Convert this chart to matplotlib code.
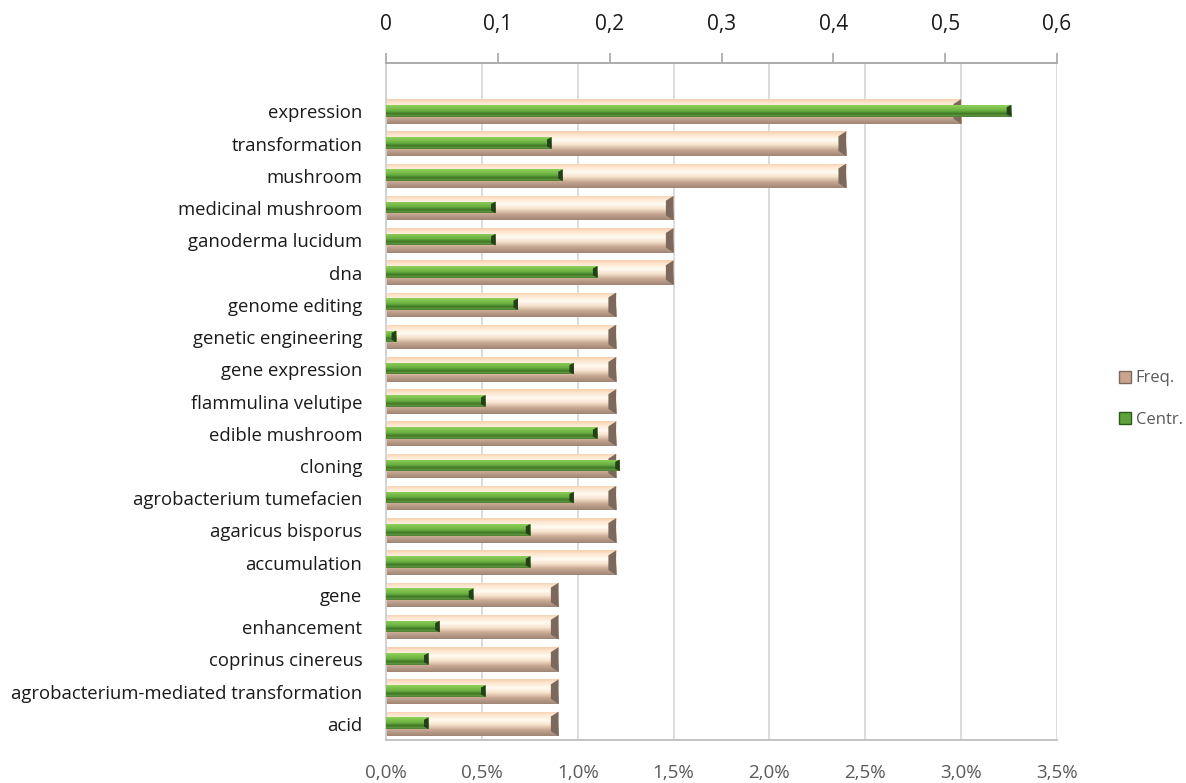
import numpy as np
import matplotlib.pyplot as plt
from matplotlib.colors import LinearSegmentedColormap
from matplotlib.patches import Polygon, Patch

plt.rcParams['font.family'] = ['Open Sans', 'DejaVu Sans']

terms = ['expression', 'transformation', 'mushroom', 'medicinal mushroom',
         'ganoderma lucidum', 'dna', 'genome editing', 'genetic engineering',
         'gene expression', 'flammulina velutipe', 'edible mushroom', 'cloning',
         'agrobacterium tumefacien', 'agaricus bisporus', 'accumulation', 'gene',
         'enhancement', 'coprinus cinereus',
         'agrobacterium-mediated transformation', 'acid']
# term frequency in percent (bottom axis)
freq = [3.0, 2.4, 2.4, 1.5, 1.5, 1.5, 1.2, 1.2, 1.2, 1.2,
        1.2, 1.2, 1.2, 1.2, 1.2, 0.9, 0.9, 0.9, 0.9, 0.9]
# centrality (top axis)
centr = [0.559, 0.148, 0.158, 0.098, 0.098, 0.189, 0.118, 0.009, 0.168, 0.089,
         0.189, 0.209, 0.168, 0.129, 0.129, 0.078, 0.048, 0.038, 0.089, 0.038]
freq_ticks = [0.0, 0.5, 1.0, 1.5, 2.0, 2.5, 3.0, 3.5]
centr_ticks = [0, 0.1, 0.2, 0.3, 0.4, 0.5, 0.6]

freq_cmap = LinearSegmentedColormap.from_list(
    'freq', [(0.0, '#f8cfae'), (0.15, '#fde6cf'), (0.35, '#fffbf3'),
             (0.55, '#f7e2cc'), (0.75, '#c8a893'), (1.0, '#a08676')])
centr_cmap = LinearSegmentedColormap.from_list(
    'centr', [(0.0, '#8fd05c'), (0.45, '#6db241'), (0.65, '#4c8a2e'),
              (0.75, '#3b6e24'), (0.85, '#5e9a3c'), (1.0, '#4f7d38')])


def shade_bars(ax, bars, cmap, cap_color, cap_w):
    grad = np.linspace(0, 1, 64).reshape(-1, 1)
    for b in bars:
        x0, y0 = b.get_x(), b.get_y()
        w, h = b.get_width(), b.get_height()
        # row 0 of the gradient goes on top of the bar
        im = ax.imshow(grad, cmap=cmap, extent=[x0, x0 + w, y0, y0 + h],
                       aspect='auto', zorder=b.get_zorder() + 0.1,
                       interpolation='bilinear')
        im.set_clip_path(b)
        # bevelled right end
        cap = Polygon([[x0 + w - cap_w, y0 + h * 0.2], [x0 + w, y0],
                       [x0 + w, y0 + h], [x0 + w - cap_w, y0 + h * 0.8]],
                      closed=True, facecolor=cap_color, edgecolor='none',
                      zorder=b.get_zorder() + 0.2)
        ax.add_patch(cap)


fig = plt.figure(figsize=(11.86, 7.83), dpi=100)
ax = fig.add_axes([386 / 1186, 1 - 740 / 783, (1057 - 386) / 1186, (740 - 63) / 783])

n = len(terms)
ypos = np.arange(n)[::-1]

fbars = ax.barh(ypos, freq, height=0.76, color='#f3dcc6', edgecolor='none', zorder=2)
shade_bars(ax, fbars, freq_cmap, '#7d685c', 0.04)
ax.set_xlim(0, 3.5)
ax.set_ylim(-0.5, 20.5)
ax.set_xticks(freq_ticks)
ax.set_xticklabels([f'{t:.1f}%'.replace('.', ',') for t in freq_ticks],
                   fontsize=13.5, color='#595959')
ax.tick_params(axis='x', length=0, pad=17)
ax.set_yticks(ypos)
ax.set_yticklabels(terms, fontsize=13.3, color='#1a1a1a')
ax.tick_params(axis='y', length=0, pad=17)
ax.grid(axis='x', color='#d9d9d9', linewidth=1.3, zorder=0)
ax.set_axisbelow(True)
for s in ['top', 'right']:
    ax.spines[s].set_visible(False)
ax.spines['left'].set_color('#d0d0d0')
ax.spines['left'].set_linewidth(1.3)
ax.spines['bottom'].set_color('#bfbfbf')
ax.spines['bottom'].set_linewidth(1.3)

ax2 = ax.twiny()
cbars = ax2.barh(ypos + 0.02, centr, height=0.36, color='#6db241', edgecolor='none', zorder=3)
shade_bars(ax2, cbars, centr_cmap, '#24401a', 0.004)
ax2.set_xlim(0, 0.6)
ax2.set_ylim(-0.5, 20.5)
ax2.set_xticks(centr_ticks)
ax2.set_xticklabels([str(t).replace('.', ',') for t in centr_ticks],
                    fontsize=15, color='#1a1a1a')
ax2.tick_params(axis='x', length=7, width=1.2, color='#a6a6a6', pad=13, direction='out')
for s in ['bottom', 'right', 'left']:
    ax2.spines[s].set_visible(False)
ax2.spines['top'].set_color('#a6a6a6')
ax2.spines['top'].set_linewidth(1.3)

handles = [Patch(facecolor='#c9a58e', edgecolor='#7d685c', label='Freq.'),
           Patch(facecolor='#5ea23a', edgecolor='#2f5a1e', label='Centr.')]
fig.legend(handles=handles, loc='center left', bbox_to_anchor=(1104 / 1186, 1 - 399 / 783),
           frameon=False, fontsize=12, handlelength=0.7, handleheight=0.7,
           handletextpad=0.3, labelspacing=1.5, labelcolor='#595959')

fig.savefig('out.png', dpi=100)
